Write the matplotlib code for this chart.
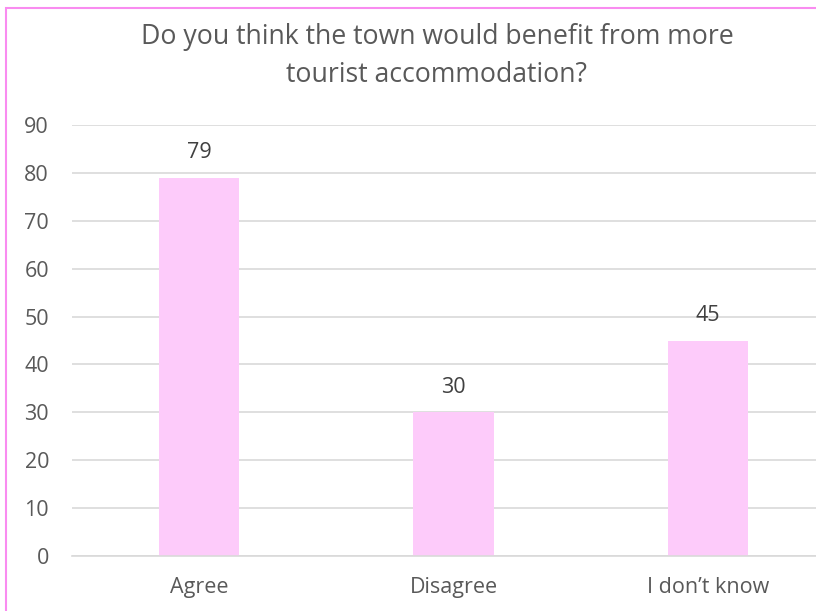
import matplotlib.pyplot as plt
from matplotlib.patches import Rectangle

categories = ["Agree", "Disagree", "I don\u2019t know"]
values = [79, 30, 45]
yticks = [0, 10, 20, 30, 40, 50, 60, 70, 80, 90]
title_lines = ["Do you think the town would benefit from more",
               "tourist accommodation?"]

plt.rcParams['font.family'] = ['Open Sans', 'DejaVu Sans']
txt = '#595959'
grid = '#D9D9D9'
fs = 15.5

fig = plt.figure(figsize=(8.16, 6.11), dpi=100)
W, H = 816, 611

# plot area (last category slot runs past the right edge)
left, right, bottom, top = 72, 835, 556, 125
ax = fig.add_axes([left / W, 1 - bottom / H, (right - left) / W, (bottom - top) / H])

x = range(len(categories))
ax.bar(x, values, width=0.315, color='#FDCBFA', zorder=2)
for xi, v in zip(x, values):
    ax.annotate(str(v), (xi, v), xytext=(0, 14), textcoords='offset points',
                ha='center', va='baseline', fontsize=fs, color='#404040')

ax.set_xlim(-0.5, len(categories) - 0.5)
ax.set_ylim(0, 90)
ax.set_yticks(yticks)
ax.set_xticks(list(x))
ax.set_xticklabels(categories)
ax.yaxis.grid(True, color=grid, linewidth=1.2, zorder=0)
for s in ['left', 'right', 'top']:
    ax.spines[s].set_visible(False)
ax.spines['bottom'].set_color(grid)
ax.spines['bottom'].set_linewidth(1.2)
ax.tick_params(axis='y', length=0, pad=16.5, labelsize=fs, labelcolor=txt)
ax.tick_params(axis='x', length=0, pad=15, labelsize=fs, labelcolor=txt)

# two-line title, baselines placed separately
for line, base in zip(title_lines, [44, 82]):
    fig.text(437 / W, 1 - base / H, line, ha='center', va='baseline',
             fontsize=19.2, color=txt)

# chart border, only top and left visible
fig.patches.append(Rectangle((6 / W, -0.1), 1.2, 1 - 8 / H + 0.1,
                             transform=fig.transFigure, fill=False,
                             edgecolor='#F98CF0', linewidth=1.5))

fig.savefig('out.png', dpi=100)
